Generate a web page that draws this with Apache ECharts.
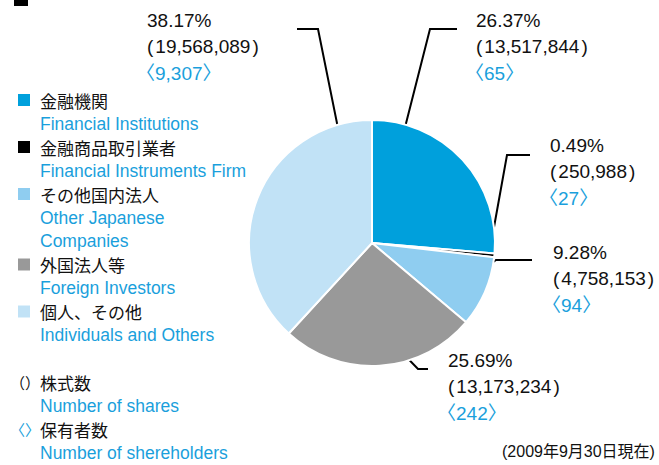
<!DOCTYPE html>
<html>
<head>
<meta charset="utf-8">
<script src="https://cdn.jsdelivr.net/npm/echarts@6/dist/echarts.min.js"></script>
<style>
  html, body { margin: 0; padding: 0; background: #fff; }
  #chart { width: 659px; height: 465px; }
</style>
</head>
<body>
<div id="chart"></div>
<script>
// 所有者別株式分布
const categories = ['金融機関', '金融商品取引業者', 'その他国内法人', '外国法人等', '個人、その他'];
const categoriesEn = [
  ['Financial Institutions'],
  ['Financial Instruments Firm'],
  ['Other Japanese', 'Companies'],
  ['Foreign Investors'],
  ['Individuals and Others'],
];
const shares = [13517844, 250988, 4758153, 13173234, 19568089]; // 株式数
const percents = ['26.37', '0.49', '9.28', '25.69', '38.17'];
const holders = [65, 27, 94, 242, 9307]; // 保有者数
const colors = ['#00a0dc', '#000000', '#8fcdf0', '#999999', '#c1e2f6'];
const dateNote = '(2009年9月30日現在)';

const BLUE_TEXT = '#1a9fdc';
const LATIN = '"Liberation Sans", Arial, sans-serif';
const CJK = '"Noto Sans CJK JP", sans-serif';

// ラベル位置と引き出し線 (左上基準, 〈 の余白ぶん左へ)
const SHIFT = 11;
const labelSpots = [[476, 7], [550, 132], [553, 239], [448, 347], [147, 7]];
const guidePoints = [
  [[400, 147], [430, 29], [457, 29]],
  [[489, 255], [507, 155], [530, 155]],
  [[459, 287], [496, 260], [532, 260]],
  [[391, 341], [418, 369], [428, 369]],
  [[342, 148], [318, 29], [297, 29]],
];

const fmt = (n) => n.toLocaleString('en-US');

const chart = echarts.init(document.getElementById('chart'), null, { renderer: 'svg' });

// 左側の凡例
const graphics = [];
const rowY = (r) => 100 + r * 23.5;
let row = 0;
categories.forEach((name, i) => {
  const y = rowY(row);
  graphics.push({
    type: 'rect',
    shape: { x: 18, y: y - 6, width: 12, height: 12 },
    style: { fill: colors[i] },
  });
  graphics.push({
    type: 'text',
    x: 40, y: y,
    style: { text: name, font: '17px ' + CJK, fill: '#111', verticalAlign: 'middle' },
  });
  row++;
  categoriesEn[i].forEach((line) => {
    graphics.push({
      type: 'text',
      x: 40, y: rowY(row),
      style: { text: line, font: '17.5px ' + LATIN, fill: BLUE_TEXT, verticalAlign: 'middle' },
    });
    row++;
  });
});
row++;
const notes = [
  { mark: '（）', markColor: '#111', jp: '株式数', en: 'Number of shares' },
  { mark: '〈〉', markColor: BLUE_TEXT, jp: '保有者数', en: 'Number of shereholders' },
];
notes.forEach((n) => {
  graphics.push({
    type: 'text', x: 10, y: rowY(row),
    style: { text: n.mark, font: '15px ' + CJK, fill: n.markColor, verticalAlign: 'middle' },
  });
  graphics.push({
    type: 'text', x: 40, y: rowY(row),
    style: { text: n.jp, font: '17px ' + CJK, fill: '#111', verticalAlign: 'middle' },
  });
  row++;
  graphics.push({
    type: 'text', x: 40, y: rowY(row),
    style: { text: n.en, font: '17.5px ' + LATIN, fill: BLUE_TEXT, verticalAlign: 'middle' },
  });
  row++;
});
graphics.push({
  type: 'text', x: 502, y: 451,
  style: { text: dateNote, font: '16px ' + LATIN + ', ' + CJK, fill: '#111', verticalAlign: 'middle' },
});
// 見出しマーク
graphics.push({ type: 'rect', shape: { x: 14, y: -8, width: 14, height: 14 }, style: { fill: '#000' } });

const option = {
  backgroundColor: '#fff',
  animation: false,
  color: colors,
  graphic: graphics,
  series: [
    {
      type: 'pie',
      center: [372, 243],
      radius: 123,
      startAngle: 90,
      clockwise: true,
      avoidLabelOverlap: false,
      itemStyle: { borderColor: '#fff', borderWidth: 2 },
      label: {
        show: true,
        position: 'outside',
        formatter: (p) => {
          const i = p.dataIndex;
          return '{p|' + percents[i] + '%}\n{o|(}{s|' + fmt(shares[i]) + '}{c|)}\n{h|〈' + fmt(holders[i]) + '〉}';
        },
        rich: {
          p: { fontSize: 19, fontFamily: LATIN, color: '#111', lineHeight: 26.5, padding: [0, 0, 0, SHIFT] },
          o: { fontSize: 19, fontFamily: LATIN, color: '#111', lineHeight: 26.5, padding: [0, 2, 0, SHIFT] },
          s: { fontSize: 19, fontFamily: LATIN, color: '#111', lineHeight: 26.5 },
          c: { fontSize: 19, fontFamily: LATIN, color: '#111', lineHeight: 26.5, padding: [0, 0, 0, 2] },
          h: { fontSize: 19, fontFamily: LATIN + ', ' + CJK, color: BLUE_TEXT, lineHeight: 26.5 },
        },
      },
      labelLine: {
        show: true,
        smooth: false,
        lineStyle: { color: '#000', width: 2 },
      },
      labelLayout: (params) => {
        const i = params.dataIndex;
        return {
          x: labelSpots[i][0] - SHIFT,
          y: labelSpots[i][1],
          align: 'left',
          verticalAlign: 'top',
          labelLinePoints: guidePoints[i],
        };
      },
      data: categories.map((name, i) => ({ name: name, value: shares[i] })),
    },
  ],
};

chart.setOption(option);
</script>
</body>
</html>
